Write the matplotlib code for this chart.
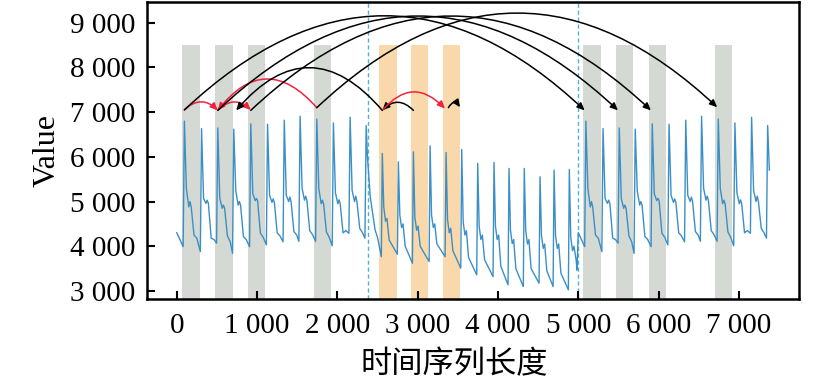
import numpy as np
import matplotlib
matplotlib.use("Agg")
import matplotlib.pyplot as plt
from matplotlib.patches import FancyArrowPatch
from matplotlib.ticker import FuncFormatter, FixedLocator

# ---- data ----
# periodic segment (0 .. ~2380), repeated again from 5000 on
start_x = [0, 40]
start_v = [4303, 4150]
peak_x = [95, 309, 511, 710, 922, 1131, 1339, 1536, 1744, 1951, 2159, 2359]
peak_v = [6800, 6634, 6645, 6620, 6738, 6730, 6819, 6908, 6846, 6759, 6886, 6700]
trough_v = [3991, 3880, 4070, 3840, 3990, 4030, 4100, 4110, 4110, 4010, 4290, 4180]
shoulder_v = [5290, 5070, 5070, 5240, 5180, 5140, 5140, 5300, 5290, 5200, 5250]
dip_v = [4880, 4960, 4850, 4920, 5020, 4980, 5000, 5030, 4950, 4950, 5000]
bump_v = [5000, 5030, 4920, 5000, 5070, 5060, 5100, 5120, 5030, 5040, 5120]
knee_v = [4250, 4180, 4230, 4220, 4290, 4300, 4330, 4350, 4320, 4300, 4400]
late_v = [4180, 4150, 4100, 4150, 4200, 4230, 4250, 4260, 4200, 4350, 4300]
tail_x = [2375, 2410, 2470, 2500]
tail_v = [6000, 5100, 4364, 4200]
end_x = [7380]
end_v = [5703]

# anomalous middle segment (2380 .. 5000)
mid_peak_x = [2560, 2760, 2947, 3155, 3354, 3549, 3748, 3951, 4138, 4328, 4524, 4699, 4889]
mid_peak_v = [6076, 5888, 6113, 6246, 6098, 6165, 5853, 5875, 5741, 5741, 5554, 5703, 5718]
mid_trough_v = [3768, 3820, 3620, 3656, 3768, 3509, 3360, 3322, 3137, 3098, 3174, 3098, 3025]
mid_shoulder_v = [4880, 4700, 4660, 4700, 4600, 4550, 4450, 4450, 4360, 4350, 4250, 4250, 4200]
mid_dip_v = [4560, 4420, 4360, 4420, 4300, 4250, 4150, 4150, 4060, 4050, 3950, 3950, 3900]
mid_bump_v = [4620, 4500, 4450, 4500, 4400, 4350, 4250, 4250, 4150, 4150, 4050, 4050, 4000]
mid_knee_v = [4140, 4000, 4000, 4050, 3900, 3750, 3700, 3550, 3500, 3500, 3450, 3400, 3690]
mid_end_x = [4985]
mid_end_v = [3464]

# highlighted windows
gray_start = [70, 482, 887, 1707, 5064, 5471, 5882, 6704]
orange_start = [2523, 2918, 3316]
band_width = 216
band_top = 8500
change_points = [2382, 5000]

# arcs: start, end, colour group, curvature
arc_x0 = [95, 511, 1744, 2947, 2560, 3383, 2560, 95, 511, 922, 1744]
arc_x1 = [511, 922, 511, 2560, 3340, 3528, 740, 5080, 5495, 5905, 6730]
arc_y0 = [7050, 7040, 7100, 7040, 7040, 7100, 7040, 7050, 7040, 7040, 7100]
arc_y1 = [7040, 7050, 7040, 7040, 7080, 7110, 7040, 7040, 7040, 7040, 7110]
arc_red = [True, True, True, False, True, False, False, False, False, False, False]
arc_rad = [-0.48, -0.48, 0.6, 0.5, -0.55, -0.8, 0.58, -0.47, -0.47, -0.47, -0.47]

y_ticks = [3000, 4000, 5000, 6000, 7000, 8000, 9000]
x_ticks = [0, 1000, 2000, 3000, 4000, 5000, 6000, 7000]


def periodic_segment(shift):
    xs = [x + shift for x in start_x]
    ys = list(start_v)
    for i, p in enumerate(peak_x):
        xs += [p + shift - 15, p + shift]
        ys += [trough_v[i], peak_v[i]]
        if i < len(shoulder_v):
            xs += [p + shift + 25, p + shift + 55, p + shift + 70,
                   p + shift + 85, p + shift + 120, p + shift + 155]
            ys += [shoulder_v[i], dip_v[i], bump_v[i], dip_v[i], knee_v[i], late_v[i]]
    return xs, ys


def middle_segment():
    xs, ys = [], []
    for i, p in enumerate(mid_peak_x):
        xs += [p - 12, p, p + 18, p + 40, p + 58, p + 85]
        ys += [mid_trough_v[i], mid_peak_v[i], mid_shoulder_v[i],
               mid_dip_v[i], mid_bump_v[i], mid_knee_v[i]]
    return xs + mid_end_x, ys + mid_end_v


lx, ly = periodic_segment(0)
mx, my = middle_segment()
rx, ry = periodic_segment(5000)
series_x = lx + tail_x + mx + rx + end_x
series_y = ly + tail_v + my + ry + end_v

plt.rcParams['font.family'] = ['Liberation Serif', 'DejaVu Serif']

fig = plt.figure(figsize=(8.27, 3.79), dpi=100)
ax = fig.add_axes([0.1774, 0.2111, 0.7891, 0.7849])

for s in gray_start:
    ax.fill_between([s, s + band_width], 2700, band_top, color='#d5d9d3', lw=0, zorder=0)
for s in orange_start:
    ax.fill_between([s, s + band_width], 2700, band_top, color='#f9d8ac', lw=0, zorder=0)

for c in change_points:
    ax.axvline(c, color='#4fb3cf', ls=(0, (3, 2)), lw=1.0, zorder=1)

ax.plot(series_x, series_y, color='#3b8fc7', lw=1.0, zorder=2)

for x0, x1, y0, y1, red, rad in zip(arc_x0, arc_x1, arc_y0, arc_y1, arc_red, arc_rad):
    col = '#f0223c' if red else 'black'
    arr = FancyArrowPatch((x0, y0), (x1, y1), connectionstyle=f"arc3,rad={rad}",
                          arrowstyle='-|>,head_length=0.55,head_width=0.25',
                          mutation_scale=8, color=col, lw=1.1,
                          shrinkA=0, shrinkB=0, zorder=3)
    ax.add_patch(arr)

ax.set_xlim(-374, 7753)
ax.set_ylim(2820, 9475)
ax.xaxis.set_major_locator(FixedLocator(x_ticks))
ax.yaxis.set_major_locator(FixedLocator(y_ticks))
fmt = FuncFormatter(lambda v, pos: f"{int(v):,}".replace(",", " "))
ax.xaxis.set_major_formatter(fmt)
ax.yaxis.set_major_formatter(fmt)
ax.tick_params(direction='in', length=6, width=1.5, labelsize=21, pad=8)
ax.tick_params(axis='x', pad=10)
for sp in ax.spines.values():
    sp.set_linewidth(1.8)

ax.set_ylabel('Value', fontsize=23, labelpad=6)
ax.set_xlabel('时间序列长度', fontsize=22.5, family=['Noto Sans CJK SC', 'DejaVu Sans'], labelpad=2)
ax.xaxis.set_label_coords(0.472, -0.165)

fig.savefig('out.png', dpi=100)
